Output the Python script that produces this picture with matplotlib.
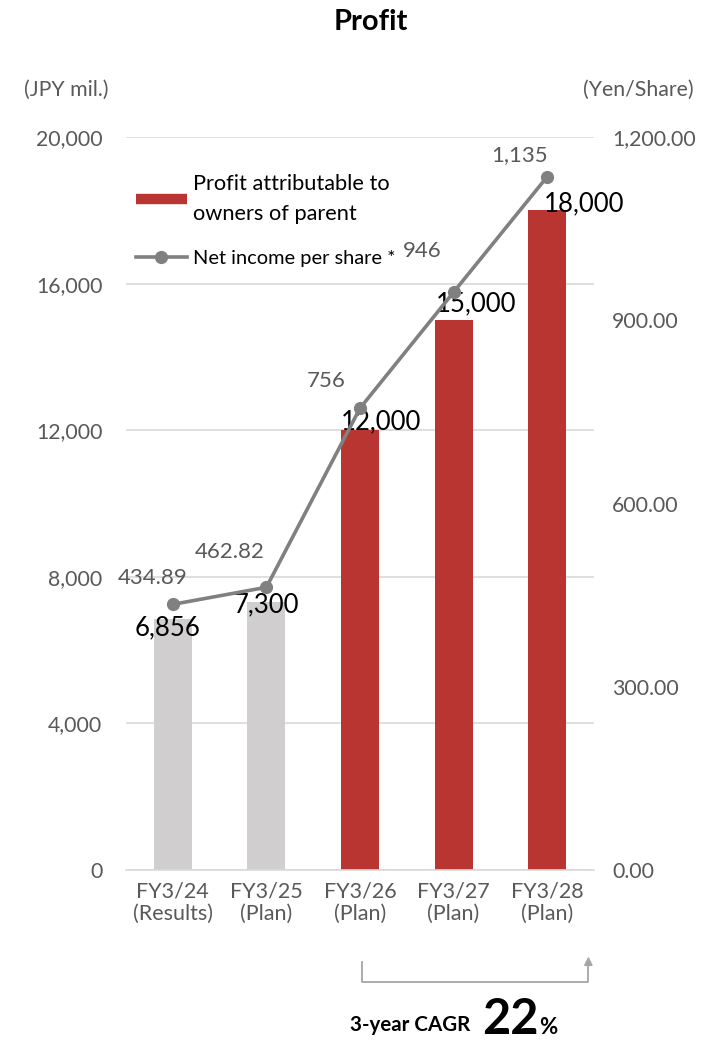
import matplotlib
matplotlib.use('Agg')
import matplotlib.pyplot as plt
from matplotlib.lines import Line2D
from matplotlib.ticker import FuncFormatter

plt.rcParams['font.family'] = ['Lato', 'DejaVu Sans']

years = ['FY3/24\n(Results)', 'FY3/25\n(Plan)', 'FY3/26\n(Plan)', 'FY3/27\n(Plan)', 'FY3/28\n(Plan)']
profit = [6856, 7300, 12000, 15000, 18000]
eps = [434.89, 462.82, 756, 946, 1135]
eps_labels = ['434.89', '462.82', '756', '946', '1,135']
is_plan = [False, False, True, True, True]

RED = '#B83532'
GREY_BAR = '#D0CECE'
LINE = '#808080'
TICK = '#595959'

# label nudges in pixels (dx, dy) so numbers don't collide with the line
bar_off = [(-5, -9), (0, -2), (21, 8), (23, 16), (37, 6)]
eps_off = [(-20, 26), (-37, 35), (-34, 27), (-31, 41), (-28, 22)]

fig = plt.figure(figsize=(7.07, 10.43), dpi=100)
ax = fig.add_axes([126 / 707, 1 - 870 / 1043, 468 / 707, 733 / 1043])
ax2 = ax.twinx()

x = range(len(years))
colors = [RED if p else GREY_BAR for p in is_plan]
ax.bar(x, profit, width=0.405, color=colors, zorder=2)
ax.set_xlim(-0.5, len(years) - 0.5)
ax.set_ylim(0, 20000)
ax.set_yticks(range(0, 20001, 4000))
ax.yaxis.set_major_formatter(FuncFormatter(lambda v, p: f'{v:,.0f}'))
ax.grid(axis='y', color='#D9D9D9', lw=1.2, zorder=0)
ax.set_axisbelow(True)
ax.set_xticks(list(x))
ax.set_xticklabels(years, fontsize=15.5, color=TICK, linespacing=1.2)
ax.tick_params(axis='x', length=0, pad=8)
ax.tick_params(axis='y', length=0, pad=17, labelsize=15.3, labelcolor=TICK)
for s in ['top', 'left', 'right']:
    ax.spines[s].set_visible(False)
ax.spines['bottom'].set_color('#D9D9D9')
ax.spines['bottom'].set_linewidth(1.2)

for i, v in enumerate(profit):
    ax.annotate(f'{v:,}', (i, v), xytext=bar_off[i], textcoords='offset pixels',
                ha='center', va='center', fontsize=18.5, color='black', zorder=5)

ax2.plot(list(x), eps, color=LINE, lw=2.6, marker='o', ms=8.5, zorder=4)
ax2.set_ylim(0, 1200)
ax2.set_yticks(range(0, 1201, 300))
ax2.yaxis.set_major_formatter(FuncFormatter(lambda v, p: f'{v:,.2f}'))
ax2.tick_params(axis='y', length=0, pad=13, labelsize=15.3, labelcolor=TICK)
for s in ['top', 'left', 'right', 'bottom']:
    ax2.spines[s].set_visible(False)
for i, v in enumerate(eps):
    ax2.annotate(eps_labels[i], (i, v), xytext=eps_off[i], textcoords='offset pixels',
                 ha='center', va='center', fontsize=16, color=TICK, zorder=5)

handles = [Line2D([], [], color=RED, lw=7.5, solid_capstyle='butt'),
           Line2D([], [], color=LINE, lw=2.6, marker='o', ms=8.5)]
leg = ax2.legend(handles, ['Profit attributable to\nowners of parent', 'Net income per share *'],
                 loc='upper left', bbox_to_anchor=(-0.012, 0.970), frameon=False,
                 fontsize=15.7, handlelength=2.35, handletextpad=0.3, labelspacing=1.15,
                 borderaxespad=0.3)
texts = leg.get_texts()
texts[0].set_linespacing(1.6)
texts[1].set_fontsize(14.4)

fig.text(371 / 707, 1 - 22 / 1043, 'Profit', ha='center', va='center',
         fontsize=21, fontweight='bold')
fig.text(66 / 707, 1 - 90 / 1043, '(JPY mil.)', ha='center', va='center',
         fontsize=15.3, color=TICK)
fig.text(638 / 707, 1 - 90 / 1043, '(Yen/Share)', ha='center', va='center',
         fontsize=15.3, color=TICK)

# bracket spanning the three plan years
bx0, bx1 = 2.02, 4.44
by_top, by_bot, by_arrow = -0.125, -0.153, -0.118
ax.plot([bx0, bx0, bx1, bx1], [by_top, by_bot, by_bot, by_arrow - 0.005],
        transform=ax.get_xaxis_transform(), color='#A6A6A6', lw=1.3, clip_on=False)
ax.annotate('', xy=(bx1, by_arrow), xytext=(bx1, by_arrow - 0.012),
            xycoords=ax.get_xaxis_transform(),
            arrowprops=dict(arrowstyle='-|>', color='#A6A6A6', lw=1.3,
                            mutation_scale=12, shrinkA=0, shrinkB=0))

fig.text(470 / 707, 1 - 1025 / 1043, '3-year CAGR', ha='right', va='center',
         fontsize=14.8, fontweight='bold')
fig.text(482 / 707, 1 - 1020 / 1043, '22', ha='left', va='center',
         fontsize=35, fontweight='bold')
fig.text(539 / 707, 1 - 1028 / 1043, '%', ha='left', va='center',
         fontsize=16, fontweight='bold')

fig.savefig('out.png', dpi=100)
